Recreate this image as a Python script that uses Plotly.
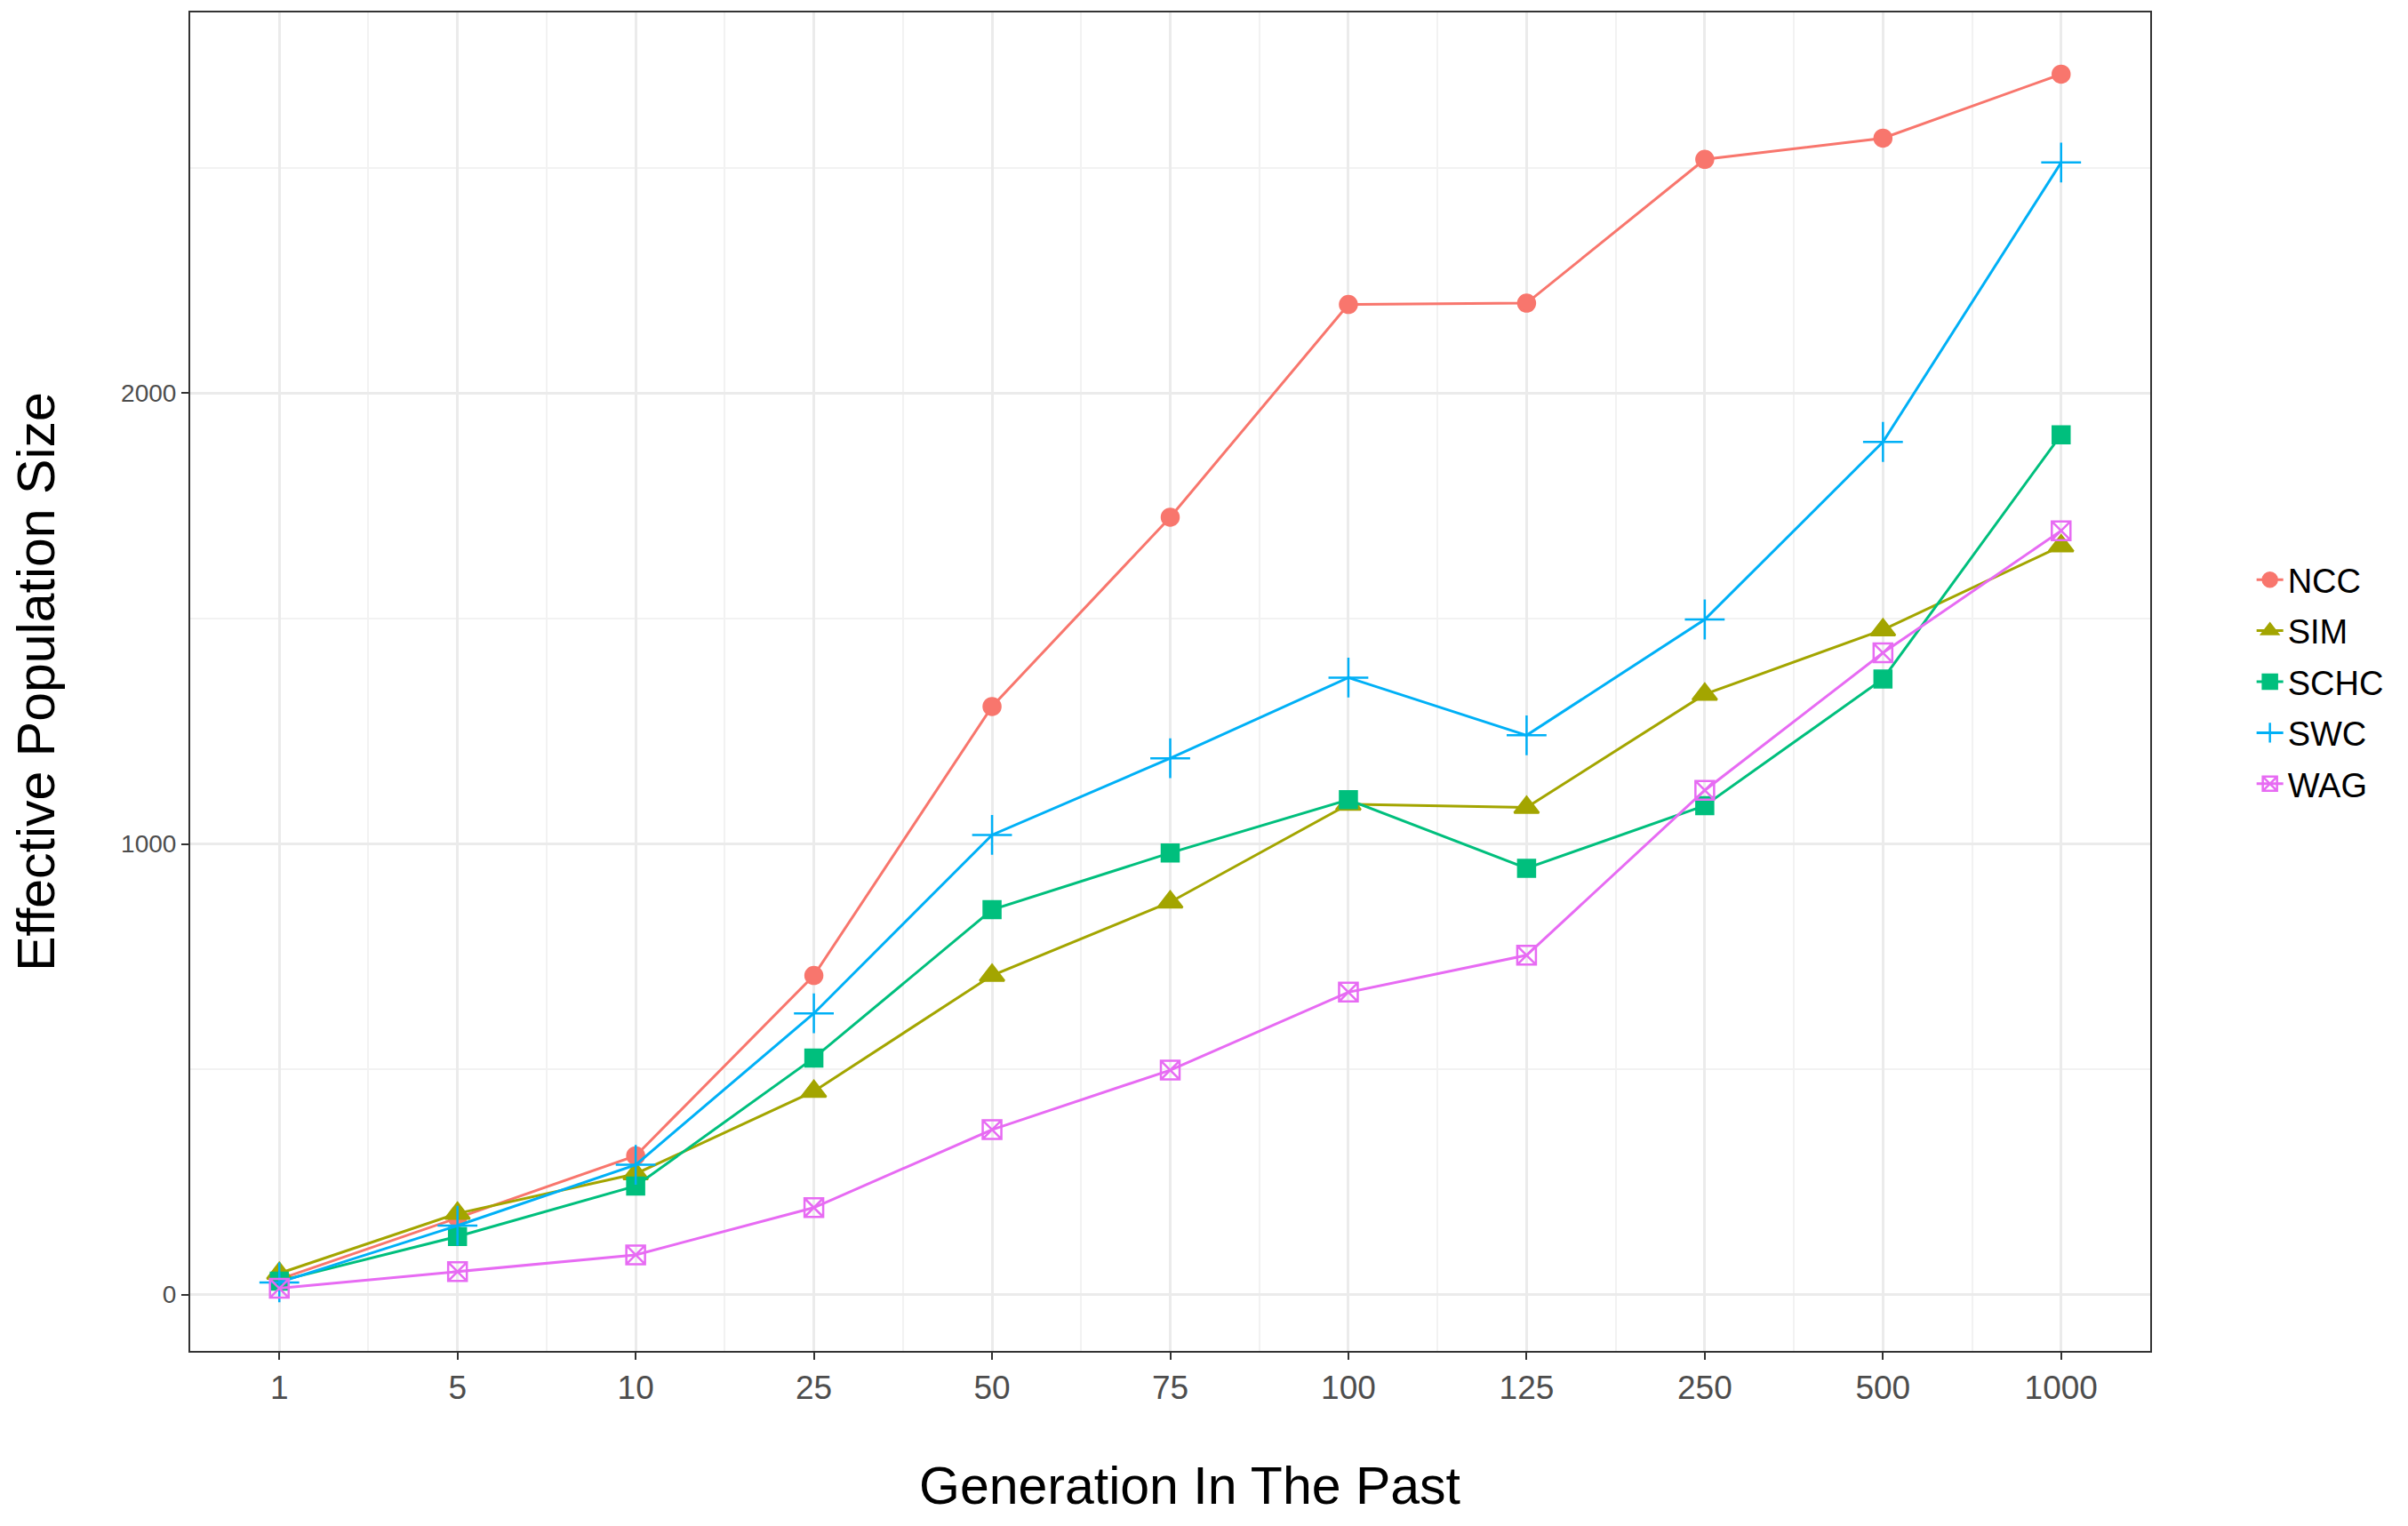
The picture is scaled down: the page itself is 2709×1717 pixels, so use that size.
import plotly.graph_objects as go

generations = ["1", "5", "10", "25", "50", "75", "100", "125", "250", "500", "1000"]
ncc = [34, 170, 308, 708, 1305, 1725, 2197, 2200, 2519, 2566, 2708]
sim = [47, 180, 268, 451, 708, 871, 1088, 1081, 1332, 1475, 1661]
schc = [30, 129, 241, 525, 854, 980, 1098, 946, 1085, 1366, 1908]
swc = [27, 153, 288, 624, 1020, 1190, 1369, 1241, 1498, 1892, 2512]
wag = [14, 51, 88, 193, 366, 498, 671, 753, 1119, 1424, 1695]

series_names = ["NCC", "SIM", "SCHC", "SWC", "WAG"]
series_values = [ncc, sim, schc, swc, wag]
colors = ["#F8766D", "#A3A500", "#00BF7D", "#00B0F6", "#E76BF3"]
symbols = ["circle", "triangle-up", "square", "cross-thin", "square-x-open"]
sizes = [19, 24, 19, 32, 21]

xpos = list(range(len(generations)))

fig = go.Figure()
for name, vals, c, s, sz in zip(series_names, series_values, colors, symbols, sizes):
    fig.add_trace(go.Scatter(
        x=xpos, y=vals, name=name, mode="lines+markers", legendgroup=name,
        line=dict(color=c, width=3),
        marker=dict(symbol=s, size=sz, color=c, line=dict(color=c, width=2.5)),
    ))

fig.update_layout(
    width=2709, height=1717,
    paper_bgcolor="white", plot_bgcolor="white",
    margin=dict(l=206, r=298, t=4, b=205),
    font=dict(family="Liberation Sans, Arial, sans-serif", color="black"),
    legend=dict(x=1.052, y=0.5, xanchor="left", yanchor="middle",
                font=dict(size=38, color="black"), itemsizing="trace",
                tracegroupgap=5, bgcolor="rgba(0,0,0,0)"),
    annotations=[dict(text="Generation In The Past", xref="paper", yref="paper",
                      x=0.5098, y=-0.1008, xanchor="center", yanchor="middle",
                      showarrow=False, font=dict(size=59, color="black"))],
)

fig.update_xaxes(
    range=[-0.5, 10.5],
    tickmode="array", tickvals=xpos, ticktext=generations,
    tickfont=dict(size=37, color="#4D4D4D"),
    ticks="outside", ticklen=8, tickwidth=2, tickcolor="#333333",
    showline=True, linecolor="#333333", linewidth=2, mirror=True,
    showgrid=True, gridcolor="#EBEBEB", gridwidth=2.5,
    minor=dict(dtick=1, tick0=0.5, showgrid=True, gridcolor="#F2F2F2", gridwidth=1.5, ticks=""),
    zeroline=False,
)
fig.update_yaxes(
    range=[-125, 2845],
    tickmode="array", tickvals=[0, 1000, 2000], ticktext=["0", "1000", "2000"],
    tickfont=dict(size=28, color="#4D4D4D"),
    ticks="outside", ticklen=8, tickwidth=2, tickcolor="#333333",
    showline=True, linecolor="#333333", linewidth=2, mirror=True,
    showgrid=True, gridcolor="#EBEBEB", gridwidth=2.5,
    minor=dict(tickvals=[500, 1500, 2500], showgrid=True, gridcolor="#F2F2F2", gridwidth=1.5, ticks=""),
    zeroline=False,
    title=dict(text="Effective Population Size", font=dict(size=59, color="black"), standoff=57),
)

fig.write_html("out.html")
